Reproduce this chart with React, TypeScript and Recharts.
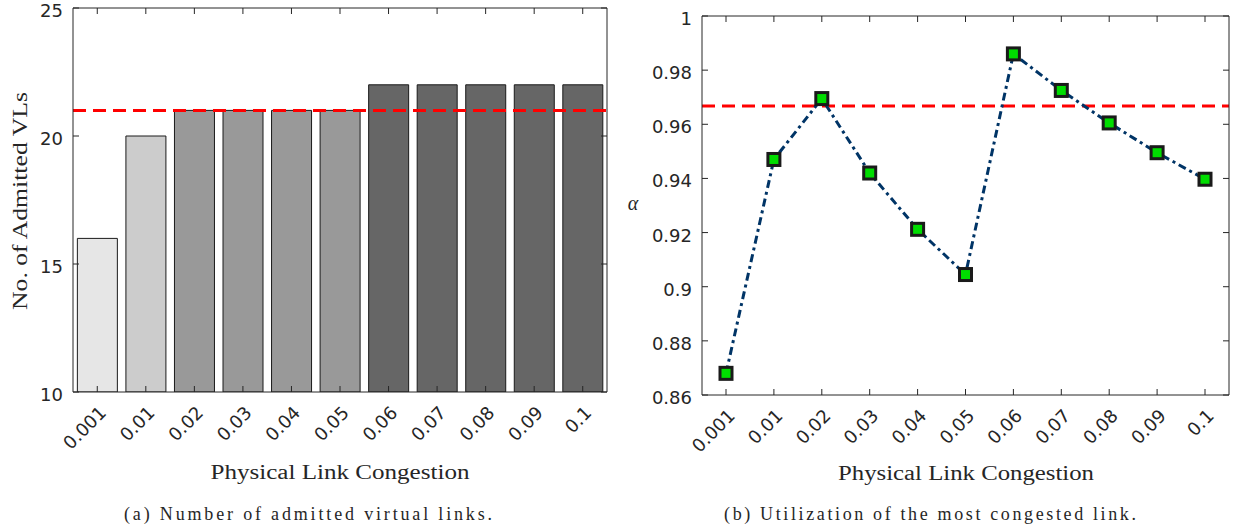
import React from 'react';
import {
  BarChart,
  Bar,
  Cell,
  LineChart,
  Line,
  XAxis,
  YAxis,
  ReferenceLine,
} from 'recharts';

const categories = ['0.001', '0.01', '0.02', '0.03', '0.04', '0.05', '0.06', '0.07', '0.08', '0.09', '0.1'];
const admittedVLs = [16, 20, 21, 21, 21, 21, 22, 22, 22, 22, 22];
const alphaValues = [0.868, 0.947, 0.9695, 0.942, 0.9212, 0.9045, 0.986, 0.9725, 0.9605, 0.9495, 0.9397];
const admittedLimit = 21;
const alphaLimit = 0.9668;
const vlTicks = [10, 15, 20, 25];
const alphaTicks = [0.86, 0.88, 0.9, 0.92, 0.94, 0.96, 0.98, 1];

const barFills = ['#e6e6e6', '#cccccc', '#999999', '#999999', '#999999', '#999999', '#666666', '#666666', '#666666', '#666666', '#666666'];

const barData = categories.map((c, i) => ({ c, v: admittedVLs[i] }));
const lineData = categories.map((c, i) => ({ c, a: alphaValues[i] }));

const AX = '#262626';
const TICK_FONT = 'DejaVu Sans';
const SERIF = 'Liberation Serif';
const W = 620;
const W2 = 613;
const H = 529;
const TL = 6; // inward tick length
const XM = 22; // gap from x axis to rotated label
const YM = 10; // gap from y axis to label

// bottom axis: inward tick + rotated label
const BottomTick = (props: any) => {
  const { x, y, payload } = props;
  const ay = y - XM;
  return (
    <g>
      <line x1={x} x2={x} y1={ay} y2={ay - TL} stroke={AX} strokeWidth={1} />
      <g transform={`translate(${x + 10},${y})`}>
        <text textAnchor="end" transform="rotate(-45)" fill={AX} fontSize={18} fontFamily={TICK_FONT}>
          {payload.value}
        </text>
      </g>
    </g>
  );
};

// top axis: inward tick only
const TopTick = (props: any) => {
  const { x, y } = props;
  return <line x1={x} x2={x} y1={y} y2={y + TL} stroke={AX} strokeWidth={1} />;
};

const makeLeftTick = (fmt: (v: number) => string) => (props: any) => {
  const { x, y, payload } = props;
  const ax = x + YM;
  return (
    <g>
      <line x1={ax} x2={ax + TL} y1={y} y2={y} stroke={AX} strokeWidth={1} />
      <text x={x} y={y} dy="0.5em" textAnchor="end" fill={AX} fontSize={18} fontFamily={TICK_FONT}>
        {fmt(payload.value)}
      </text>
    </g>
  );
};

const RightTick = (props: any) => {
  const { x, y } = props;
  return <line x1={x} x2={x - TL} y1={y} y2={y} stroke={AX} strokeWidth={1} />;
};

const fmtAlpha = (v: number) => String(Number(v.toFixed(2)));
const VLTick = makeLeftTick((v) => String(v));
const AlphaTick = makeLeftTick(fmtAlpha);

const SquareDot = (props: any) => {
  const { cx, cy, index } = props;
  if (cx == null || cy == null) return <g key={`d${index}`} />;
  return (
    <rect key={`d${index}`} x={cx - 6} y={cy - 6} width={12} height={12} fill="#00dd00" stroke="#1a1a1a" strokeWidth={3} />
  );
};

const layer: React.CSSProperties = { position: 'absolute', top: 0 };

export default function App() {
  return (
    <div style={{ position: 'fixed', left: 0, top: 0, width: 1233, height: H, background: '#fff', overflow: 'hidden' }}>
      {/* left panel: bars */}
      <div style={{ ...layer, left: 0 }}>
        <BarChart width={W} height={H} data={barData} margin={{ top: 8, right: 13, bottom: 137, left: 73 }} barCategoryGap="9%">
          <XAxis dataKey="c" hide />
          <YAxis hide domain={[10, 25]} type="number" allowDataOverflow />
          <Bar dataKey="v" stroke="#1a1a1a" strokeWidth={1} isAnimationActive={false}>
            {barData.map((d, i) => (
              <Cell key={d.c} fill={barFills[i]} />
            ))}
          </Bar>
          <ReferenceLine y={admittedLimit} stroke="#ff0000" strokeWidth={3} strokeDasharray="13 7" />
        </BarChart>
      </div>
      {/* left panel: axes box on top */}
      <div style={{ ...layer, left: 0 }}>
        <BarChart width={W} height={H} data={barData} margin={{ top: 7, right: 12, bottom: 77, left: 13 }}>
          <XAxis dataKey="c" scale="band" height={60} tick={<BottomTick />} tickLine={false} tickSize={0} tickMargin={XM} stroke={AX} interval={0} />
          <XAxis xAxisId="top" dataKey="c" scale="band" orientation="top" height={1} tick={<TopTick />} tickLine={false} tickSize={0} tickMargin={0} stroke={AX} interval={0} />
          <YAxis
            width={60}
            domain={[10, 25]}
            allowDataOverflow
            ticks={vlTicks}
            interval={0}
            type="number"
            tickLine={false}
            tickSize={0}
            tickMargin={YM}
            stroke={AX}
            tick={<VLTick />}
          />
          <YAxis yAxisId="r" orientation="right" width={1} domain={[10, 25]} allowDataOverflow ticks={vlTicks} interval={0} type="number" tick={<RightTick />} tickLine={false} tickSize={0} tickMargin={0} stroke={AX} />
        </BarChart>
      </div>
      {/* right panel: line */}
      <div style={{ ...layer, left: 620 }}>
        <LineChart width={W2} height={H} data={lineData} margin={{ top: 16, right: 4, bottom: 134, left: 82 }}>
          <XAxis dataKey="c" hide padding={{ left: 24, right: 24 }} />
          <YAxis hide domain={[0.86, 1]} type="number" allowDataOverflow />
          <ReferenceLine y={alphaLimit} stroke="#ff0000" strokeWidth={3} strokeDasharray="13 7" />
          <Line
            dataKey="a"
            stroke="#003466"
            strokeWidth={3}
            strokeDasharray="8 4 3 4"
            dot={SquareDot}
            isAnimationActive={false}
          />
        </LineChart>
      </div>
      <div style={{ ...layer, left: 620 }}>
        <LineChart width={W2} height={H} data={lineData} margin={{ top: 15, right: 3, bottom: 74, left: 22 }}>
          <XAxis dataKey="c" height={60} padding={{ left: 24, right: 24 }} tick={<BottomTick />} tickLine={false} tickSize={0} tickMargin={XM} stroke={AX} interval={0} />
          <XAxis xAxisId="top" dataKey="c" orientation="top" height={1} padding={{ left: 24, right: 24 }} tick={<TopTick />} tickLine={false} tickSize={0} tickMargin={0} stroke={AX} interval={0} />
          <YAxis
            width={60}
            domain={[0.86, 1]}
            allowDataOverflow
            ticks={alphaTicks}
            interval={0}
            type="number"
            tickLine={false}
            tickSize={0}
            tickMargin={YM}
            stroke={AX}
            tick={<AlphaTick />}
          />
          <YAxis yAxisId="r" orientation="right" width={1} domain={[0.86, 1]} allowDataOverflow ticks={alphaTicks} interval={0} type="number" tick={<RightTick />} tickLine={false} tickSize={0} tickMargin={0} stroke={AX} />
        </LineChart>
      </div>
      <svg width={1233} height={H} style={{ position: 'absolute', left: 0, top: 0, pointerEvents: 'none' }}>
        <text x={20} y={201} transform="rotate(-90 20 201)" textAnchor="middle" dominantBaseline="central" fontFamily={SERIF} fontSize={20} fill={AX} textLength={218} lengthAdjust="spacingAndGlyphs">
          No. of Admitted VLs
        </text>
        <text x={340} y={479} textAnchor="middle" fontFamily={SERIF} fontSize={20} fill={AX} textLength={259} lengthAdjust="spacingAndGlyphs">
          Physical Link Congestion
        </text>
        <text x={124} y={520} fontFamily={SERIF} fontSize={18} fill={AX} textLength={368} lengthAdjust="spacing">
          (a) Number of admitted virtual links.
        </text>
        <text x={633} y={210} textAnchor="middle" fontFamily={SERIF} fontStyle="italic" fontSize={20} fill={AX}>
          α
        </text>
        <text x={966} y={480} textAnchor="middle" fontFamily={SERIF} fontSize={20} fill={AX} textLength={256} lengthAdjust="spacingAndGlyphs">
          Physical Link Congestion
        </text>
        <text x={724} y={520} fontFamily={SERIF} fontSize={18} fill={AX} textLength={412} lengthAdjust="spacing">
          (b) Utilization of the most congested link.
        </text>
      </svg>
    </div>
  );
}
